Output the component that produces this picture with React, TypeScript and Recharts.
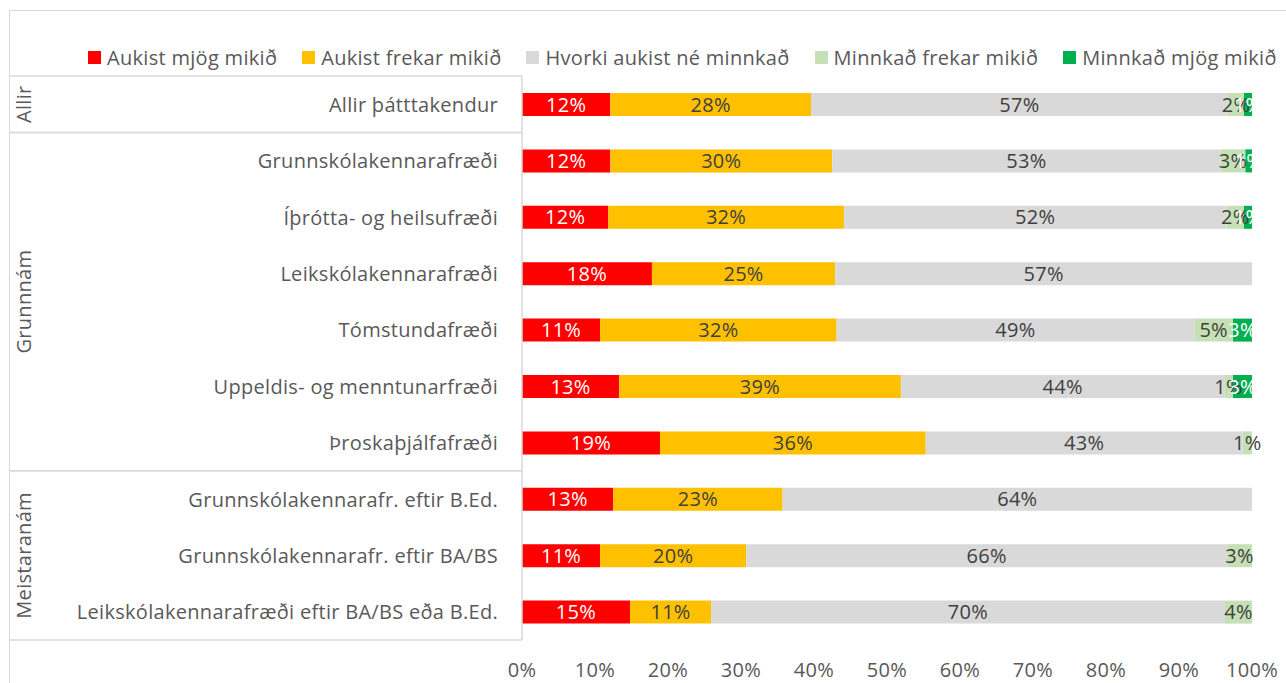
import React from "react";
import { BarChart, Bar, XAxis, YAxis, Legend, LabelList } from "recharts";

const categories = [
  "Allir þátttakendur",
  "Grunnskólakennarafræði",
  "Íþrótta- og heilsufræði",
  "Leikskólakennarafræði",
  "Tómstundafræði",
  "Uppeldis- og menntunarfræði",
  "Þroskaþjálfafræði",
  "Grunnskólakennarafr. eftir B.Ed.",
  "Grunnskólakennarafr. eftir BA/BS",
  "Leikskólakennarafræði eftir BA/BS eða B.Ed.",
];
const groups = [
  "Allir",
  "Grunnnám",
  "Grunnnám",
  "Grunnnám",
  "Grunnnám",
  "Grunnnám",
  "Grunnnám",
  "Meistaranám",
  "Meistaranám",
  "Meistaranám",
];
const aukistMjog = [12.1, 12.1, 11.8, 17.8, 10.7, 13.3, 18.9, 12.5, 10.7, 14.8];
const aukistFrekar = [27.5, 30.4, 32.3, 25.1, 32.4, 38.6, 36.4, 23.2, 20.0, 11.1];
const hvorki = [57.1, 53.2, 52.4, 57.1, 49.0, 44.3, 43.4, 64.3, 65.9, 70.4];
const minnkadFrekar = [2.2, 3.4, 2.4, 0, 5.3, 1.2, 1.3, 0, 3.4, 3.7];
const minnkadMjog = [1.1, 0.9, 1.1, 0, 2.6, 2.6, 0, 0, 0, 0];
const xTicks = [0, 10, 20, 30, 40, 50, 60, 70, 80, 90, 100];

const seriesDefs = [
  { key: "a", name: "Aukist mjög mikið", color: "#FF0000", text: "#FFFFFF", values: aukistMjog },
  { key: "b", name: "Aukist frekar mikið", color: "#FFC000", text: "#404040", values: aukistFrekar },
  { key: "c", name: "Hvorki aukist né minnkað", color: "#D9D9D9", text: "#404040", values: hvorki },
  { key: "d", name: "Minnkað frekar mikið", color: "#C5E0B4", text: "#404040", values: minnkadFrekar },
  { key: "e", name: "Minnkað mjög mikið", color: "#00B050", text: "#FFFFFF", values: minnkadMjog },
];

const data = categories.map((name, i) => {
  const row: Record<string, any> = { name };
  seriesDefs.forEach((s) => (row[s.key] = s.values[i]));
  return row;
});

const FONT = "'Open Sans', 'Noto Sans', sans-serif";
const FS = 20;
const LS = 0.3;
const W = 1276;
const H = 672;
const LEGEND_H = 24;
const M = { top: 65 - LEGEND_H, right: 34, bottom: 0, left: 0 };
const X_AXIS_H = 43;
const Y_AXIS_W = 512;
const plotH = H - 65 - M.bottom - X_AXIS_H;
const band = plotH / categories.length;
const LINE = "#D9D9D9";

const renderYTick = (props: any) => {
  const { y, payload } = props;
  const i = categories.indexOf(payload.value);
  const g = groups[i];
  const isStart = i === 0 || groups[i - 1] !== g;
  const isEnd = i === groups.length - 1 || groups[i + 1] !== g;
  let groupLabel = null;
  if (isStart) {
    let j = i;
    while (j + 1 < groups.length && groups[j + 1] === g) j++;
    const cy = y + ((j - i) * band) / 2;
    groupLabel = (
      <text
        x={14}
        y={cy}
        transform={`rotate(-90, 14, ${cy})`}
        textAnchor="middle"
        dominantBaseline="central"
        fill="#595959"
        fontSize={FS}
        letterSpacing={LS}
        fontFamily={FONT}
      >
        {g}
      </text>
    );
  }
  return (
    <g>
      {isStart && <line x1={0} x2={Y_AXIS_W} y1={y - band / 2} y2={y - band / 2} stroke={LINE} strokeWidth={1.5} />}
      {isEnd && <line x1={0} x2={Y_AXIS_W} y1={y + band / 2} y2={y + band / 2} stroke={LINE} strokeWidth={1.5} />}
      {groupLabel}
      <text
        x={488}
        y={y}
        textAnchor="end"
        dominantBaseline="central"
        fill="#595959"
        fontSize={FS}
        letterSpacing={LS}
        fontFamily={FONT}
      >
        {payload.value}
      </text>
    </g>
  );
};

const renderLegend = () => (
  <div
    style={{
      display: "flex",
      alignItems: "center",
      height: LEGEND_H,
      fontFamily: FONT,
      fontSize: FS,
      letterSpacing: LS,
      color: "#595959",
    }}
  >
    {seriesDefs.map((s) => (
      <div key={s.key} style={{ display: "flex", alignItems: "center", marginRight: 25, whiteSpace: "nowrap" }}>
        <span style={{ display: "inline-block", width: 13, height: 13, background: s.color, marginRight: 6 }} />
        <span>{s.name}</span>
      </div>
    ))}
  </div>
);

export default function App() {
  return (
    <div
      style={{
        position: "absolute",
        left: 9,
        top: 10,
        width: W,
        height: H,
        borderTop: `1px solid ${LINE}`,
        borderLeft: `1px solid ${LINE}`,
        background: "#fff",
      }}
    >
      <BarChart width={W} height={H} data={data} layout="vertical" margin={M} barSize={23}>
        <XAxis
          type="number"
          domain={[0, 100]}
          ticks={xTicks}
          tickFormatter={(v: number) => `${v}%`}
          axisLine={false}
          tickLine={false}
          tickMargin={17}
          height={X_AXIS_H}
          tick={{ fill: "#595959", fontSize: FS, fontFamily: FONT, letterSpacing: LS }}
        />
        <YAxis
          type="category"
          dataKey="name"
          width={Y_AXIS_W}
          axisLine={{ stroke: LINE, strokeWidth: 1.5 }}
          tickLine={false}
          interval={0}
          tick={renderYTick}
        />
        <Legend
          layout="horizontal"
          verticalAlign="top"
          align="left"
          content={renderLegend}
          wrapperStyle={{ top: 34, left: 78, height: LEGEND_H }}
        />
        {seriesDefs.map((s) => (
          <Bar key={s.key} dataKey={s.key} name={s.name} stackId="s" fill={s.color} isAnimationActive={false}>
            <LabelList
              dataKey={s.key}
              position="center"
              formatter={(v: any) => (v ? `${Math.round(Number(v))}%` : "")}
              fill={s.text}
              fontSize={FS}
              letterSpacing={LS}
              fontFamily={FONT}
            />
          </Bar>
        ))}
      </BarChart>
    </div>
  );
}
